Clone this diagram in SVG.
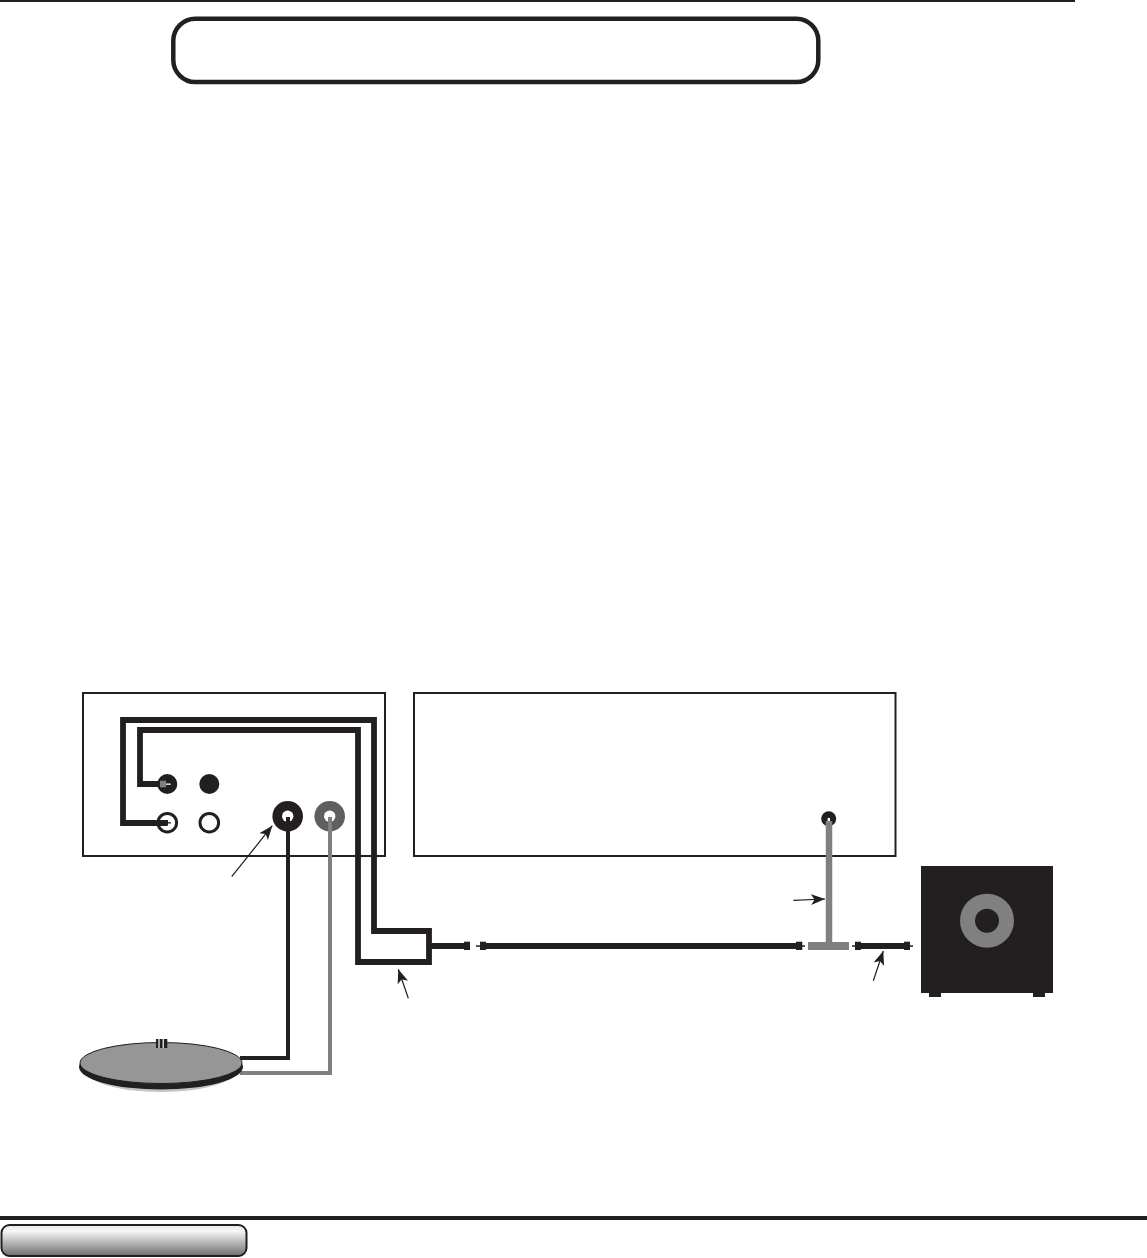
<svg xmlns="http://www.w3.org/2000/svg" width="1147" height="1258" viewBox="0 0 1147 1258">
<style>
.box{fill:#fff;stroke:#231f20;stroke-width:2}
.k{fill:#231f20}
.g{fill:#808080}
.w{fill:#fff}
.thick{fill:none;stroke:#231f20;stroke-width:5.8;stroke-linejoin:miter}
.run{fill:none;stroke:#231f20;stroke-width:5.8}
.rk{fill:none;stroke:#231f20;stroke-width:4}
.rg{fill:none;stroke:#808080;stroke-width:4}
.lead{fill:none;stroke:#231f20;stroke-width:1.2}
</style>
<defs>
<linearGradient id="pill" x1="0" y1="0" x2="0" y2="1">
<stop offset="0" stop-color="#e8e8e8"/><stop offset="0.2" stop-color="#f6f6f6"/><stop offset="1" stop-color="#6d6d6d"/>
</linearGradient>
<marker id="ah" markerUnits="userSpaceOnUse" markerWidth="16" markerHeight="12" refX="14" refY="6" orient="auto">
<path d="M0 0.500L14 6L0 11.500L3.500 6Z" fill="#231f20"/>
</marker>
</defs>
<rect width="1147" height="1258" fill="#fff"/>
<g id="page-rules">
<rect x="0" y="0" width="1075" height="2" class="k"/>
<rect x="0" y="1216" width="1147" height="4" class="k"/>
</g>
<g id="title-box"><rect x="173.300" y="18.700" width="645" height="63.300" rx="22" fill="#fff" stroke="#231f20" stroke-width="4.500"/></g>
<g id="footer-tab"><rect x="1.500" y="1225" width="245" height="31" rx="8" fill="url(#pill)" stroke="#231f20" stroke-width="2"/></g>
<g id="receiver"><rect x="83" y="693" width="302" height="163" class="box"/>
<circle cx="167.300" cy="784" r="10" class="k"/>
<circle cx="209.300" cy="784" r="10" class="k"/>
<circle cx="167.300" cy="822.700" r="9.300" fill="#fff" stroke="#231f20" stroke-width="3"/>
<circle cx="209.300" cy="822.700" r="9.300" fill="#fff" stroke="#231f20" stroke-width="3"/>
<circle cx="287.700" cy="816.300" r="15.300" class="k"/>
<circle cx="287.700" cy="816.300" r="5.700" class="w"/>
<circle cx="329.700" cy="816.300" r="15.300" fill="#5f5f5f"/>
<circle cx="329.700" cy="816.300" r="5.700" class="w"/>
</g>
<g id="amplifier"><rect x="414" y="693" width="481.500" height="163" class="box"/>
<circle cx="828.700" cy="818.700" r="7.500" class="k"/>
<rect x="827.600" y="818" width="2.400" height="3" class="w"/>
</g>
<g id="subwoofer">
<rect x="929" y="990" width="12" height="7" class="k"/>
<rect x="1033" y="990" width="12" height="7" class="k"/>
<rect x="921" y="866" width="132" height="127" class="k"/>
<circle cx="987" cy="920.700" r="27" class="g"/>
<circle cx="987" cy="920.700" r="12" class="k"/>
</g>
<g id="connectors">
<path class="thick" d="M166 823H123V720H374V931H429V962H358V730H140V784H162"/>
<path class="rk" d="M288 817V1058H240"/>
<path class="rg" d="M330 817V1073H240"/>
<path class="run" d="M429 946H466"/>
<path class="run" d="M482 946H798"/>
<path class="run" d="M858 946H906"/>
<path d="M829 821V946" fill="none" stroke="#808080" stroke-width="6.500"/>
<g class="k">
<rect x="464" y="941.700" width="6" height="8.300"/><rect x="476" y="945.300" width="4" height="1.500"/><rect x="480" y="941.700" width="6" height="8.300"/>
<rect x="796" y="941.700" width="6.300" height="8.300"/><rect x="802" y="945.300" width="3" height="1.500"/>
<rect x="852" y="945.300" width="3" height="1.500"/><rect x="855" y="941.700" width="6" height="8.300"/>
<rect x="904" y="941.700" width="6" height="8.300"/><rect x="910" y="945.300" width="3" height="1.500"/>
</g>
<rect x="808" y="942" width="41" height="8" class="g"/>
<rect x="160" y="780.700" width="6" height="6.600" class="g"/>
<rect x="166" y="783.500" width="4.700" height="1.300" class="w"/>
<rect x="164" y="820" width="4" height="5.800" class="k"/>
<rect x="168" y="822.200" width="3" height="1.300" class="k"/>
<path class="lead" marker-end="url(#ah)" d="M231.700 876.700L272.300 825.700"/>
<path class="lead" marker-end="url(#ah)" d="M408.300 998.300L398.300 969.300"/>
<path class="lead" marker-end="url(#ah)" d="M793.300 900.300L825 899"/>
<path class="lead" marker-end="url(#ah)" d="M873.300 980.700L883.300 951"/>
</g>
<g id="turntable">
<ellipse cx="161" cy="1068" rx="78" ry="24" fill="#c4c4c4"/>
<ellipse cx="161" cy="1067" rx="82" ry="22.500" class="k"/>
<ellipse cx="161" cy="1063" rx="81" ry="20.500" fill="#969696" stroke="#231f20" stroke-width="1"/>
<rect x="156" y="1039" width="11.300" height="9" class="k"/>
<rect x="158.400" y="1039" width="1.200" height="9" class="w"/>
<rect x="162.600" y="1039" width="1.200" height="9" class="w"/>
</g>
</svg>
